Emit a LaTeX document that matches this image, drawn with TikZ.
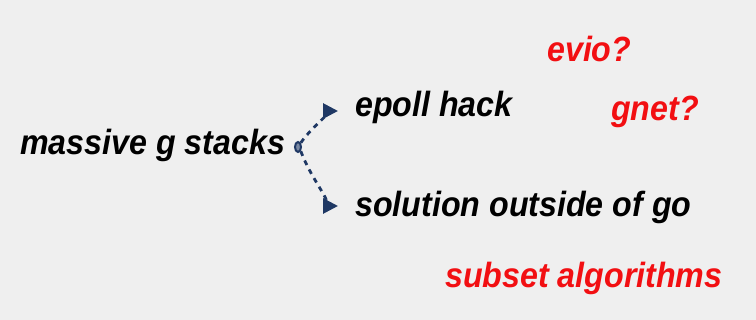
\documentclass[tikz,border=0pt]{standalone}
\usepackage{fontspec}
\setmainfont{Liberation Sans}[FakeStretch=0.92]
\usepackage{xcolor}
\usepackage{tikz}
\usetikzlibrary{shapes.geometric, arrows.meta, positioning, calc}
\definecolor{PageGray}{HTML}{EFEFEF}
\definecolor{NavyLine}{HTML}{1F3864}
\definecolor{IdeaRed}{HTML}{F20F12}
\tikzset{
  topic/.style={font=\fontsize{35}{40}\selectfont\bfseries\itshape,
    text=black, inner sep=0pt, anchor=base west},
  idea/.style={topic, text=IdeaRed},
  hub/.style={ellipse, draw=NavyLine, fill=NavyLine!60, line width=2pt,
    minimum width=6pt, minimum height=10pt, inner sep=0pt},
  branch/.style={-{Triangle[length=15pt,width=15pt]}, line width=2.8pt,
    dash pattern=on 5pt off 5pt, color=NavyLine},
}
\begin{document}
\begin{tikzpicture}[x=1pt, y=-1pt]

  % Background
  \fill[PageGray] (0,0) rectangle (756,320);
  \useasboundingbox (0,0) rectangle (756,320);

  % Source topic
  \node[topic] (stacks) at (20,155) {massive g stacks};
  \node[hub] (hub) at (298,147) {};

  % Options
  \node[topic] (epoll) at (355,117) {epoll hack};
  \node[topic] (outside) at (355,217) {solution outside of go};

  % Open questions
  \node[idea] (evio) at (547,62) {evio?};
  \node[idea] (gnet) at (611,121) {gnet?};
  \node[idea] (subset) at (445,288) {subset algorithms};

  % Arrow ends
  \coordinate (epollin) at ($(epoll.base west)+(-17,-6)$);
  \coordinate (outsidein) at ($(outside.base west)+(-17,-11)$);

  % Dotted branches
  \draw[branch] (hub.north east) .. controls +(14,-20) and +(-2,0) .. (epollin);
  \draw[branch] (hub.south east) .. controls +(12,32) and +(-2,0) .. (outsidein);

\end{tikzpicture}
\end{document}
